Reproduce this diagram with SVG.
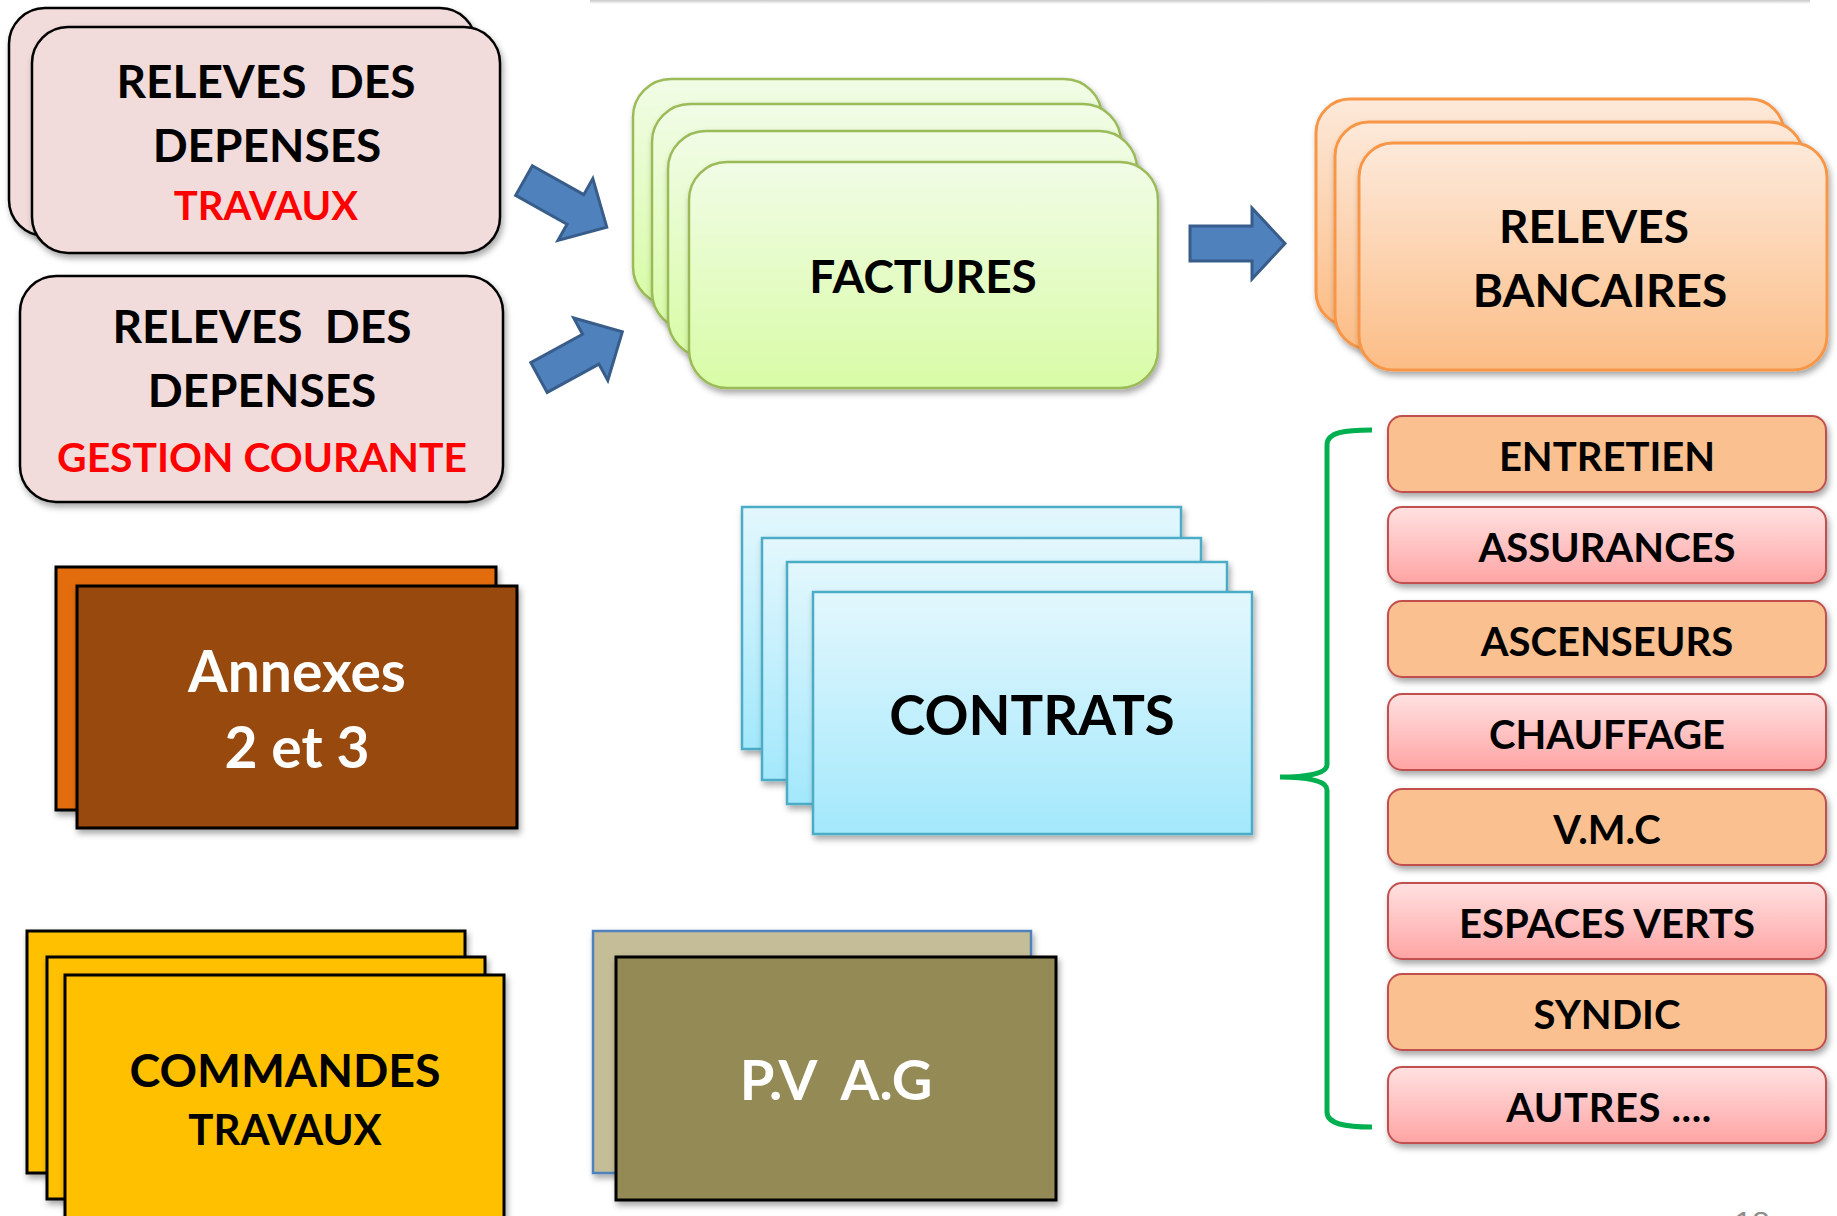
<svg xmlns="http://www.w3.org/2000/svg" width="1837" height="1216" viewBox="0 0 1837 1216">
<defs>
<filter id="sh" x="-10%" y="-10%" width="125%" height="135%"><feDropShadow dx="2" dy="4" stdDeviation="3" flood-color="#000" flood-opacity="0.35"/></filter>
<linearGradient id="gGreen" x1="0" y1="0" x2="0" y2="1"><stop offset="0" stop-color="#F1FCE6"/><stop offset="1" stop-color="#D8FCA6"/></linearGradient>
<linearGradient id="gOrange" x1="0" y1="0" x2="0" y2="1"><stop offset="0" stop-color="#FDE9DA"/><stop offset="1" stop-color="#FCBD86"/></linearGradient>
<linearGradient id="gBlue" x1="0" y1="0" x2="0" y2="1"><stop offset="0" stop-color="#E3F7FD"/><stop offset="1" stop-color="#A3E8FC"/></linearGradient>
<linearGradient id="gPink" x1="0" y1="0" x2="0" y2="1"><stop offset="0" stop-color="#FFE1E1"/><stop offset="1" stop-color="#FFA4A4"/></linearGradient>
<linearGradient id="gTop" x1="0" y1="0" x2="0" y2="1"><stop offset="0" stop-color="#C8C8C8"/><stop offset="1" stop-color="#FFFFFF"/></linearGradient>
</defs>
<style>
text{font-family:Lato,"Liberation Sans",sans-serif;font-weight:700;text-anchor:middle;}
.blk{fill:#000;}
.red{fill:#FF0000;}
.wht{fill:#FFFFFF;}
.rel{fill:#F2DCDB;stroke:#000;stroke-width:2.5;filter:url(#sh);}
.fac{fill:url(#gGreen);stroke:#9BBB59;stroke-width:2.5;filter:url(#sh);}
.ban{fill:url(#gOrange);stroke:#F79646;stroke-width:3;filter:url(#sh);}
.con{fill:url(#gBlue);stroke:#4BACC6;stroke-width:2.5;filter:url(#sh);}
.catO{fill:#FAC090;stroke:#C0504D;stroke-width:2;filter:url(#sh);}
.catP{fill:url(#gPink);stroke:#C0504D;stroke-width:2;filter:url(#sh);}
.arr{fill:#4F81BD;stroke:#385D8A;stroke-width:3;stroke-linejoin:miter;}
.sq{stroke:#000;stroke-width:3;filter:url(#sh);}
</style>
<rect width="1837" height="1216" fill="#FFFFFF"/>
<rect x="590" y="0" width="1220" height="4" fill="url(#gTop)"/>

<g id="releves-travaux">
<rect class="rel" x="9" y="8" width="467" height="228" rx="36"/>
<rect class="rel" x="32" y="27" width="468" height="226" rx="36"/>
<text class="blk" x="266" y="98" font-size="46" xml:space="preserve">RELEVES  DES</text>
<text class="blk" x="267" y="162" font-size="46">DEPENSES</text>
<text class="red" x="266" y="220" font-size="40">TRAVAUX</text>
</g>

<g id="releves-gestion">
<rect class="rel" x="20" y="276" width="483" height="226" rx="36"/>
<text class="blk" x="262" y="343" font-size="46" xml:space="preserve">RELEVES  DES</text>
<text class="blk" x="262" y="407" font-size="46">DEPENSES</text>
<text class="red" x="262" y="472" font-size="40.8">GESTION COURANTE</text>
</g>

<g id="factures">
<rect class="fac" x="633" y="79" width="469" height="226" rx="38"/>
<rect class="fac" x="652" y="104" width="469" height="226" rx="38"/>
<rect class="fac" x="668" y="131" width="469" height="226" rx="38"/>
<rect class="fac" x="689" y="162" width="469" height="226" rx="38"/>
<text class="blk" x="923" y="293" font-size="46">FACTURES</text>
</g>

<g id="releves-bancaires">
<rect class="ban" x="1316" y="99" width="468" height="227" rx="34"/>
<rect class="ban" x="1335" y="122" width="468" height="227" rx="34"/>
<rect class="ban" x="1359" y="143" width="468" height="227" rx="34"/>
<text class="blk" x="1594" y="243" font-size="46">RELEVES</text>
<text class="blk" x="1600" y="307" font-size="46">BANCAIRES</text>
</g>

<g id="annexes">
<rect class="sq" x="56" y="567" width="440" height="243" fill="#E36C09"/>
<rect class="sq" x="77" y="586" width="440" height="242" fill="#984807"/>
<text class="wht" x="297" y="692" font-size="57">Annexes</text>
<text class="wht" x="297" y="768" font-size="57">2 et 3</text>
</g>

<g id="contrats">
<rect class="con" x="742" y="507" width="439" height="242"/>
<rect class="con" x="762" y="538" width="439" height="242"/>
<rect class="con" x="787" y="562" width="440" height="242"/>
<rect class="con" x="813" y="592" width="439" height="242"/>
<text class="blk" x="1032" y="735" font-size="54.5">CONTRATS</text>
</g>

<g id="commandes-travaux">
<rect class="sq" x="27" y="931" width="438" height="242" fill="#FFC000" stroke-width="2.5"/>
<rect class="sq" x="47" y="957" width="438" height="242" fill="#FFC000" stroke-width="2.5"/>
<rect class="sq" x="65" y="975" width="439" height="260" fill="#FFC000" stroke-width="2.5"/>
<text class="blk" x="285" y="1087" font-size="46.5">COMMANDES</text>
<text class="blk" x="285" y="1145" font-size="42">TRAVAUX</text>
</g>

<g id="pv-ag">
<rect x="593" y="931" width="438" height="242" fill="#C4BD97" stroke="#4F81BD" stroke-width="2.5" filter="url(#sh)"/>
<rect class="sq" x="616" y="957" width="440" height="243" fill="#948A54"/>
<text class="wht" x="836" y="1100" font-size="56" xml:space="preserve">P.V  A.G</text>
</g>

<g id="cat-entretien"><rect class="catO" x="1388" y="416" width="438" height="76" rx="14"/><text class="blk" x="1607" y="470.5" font-size="40">ENTRETIEN</text></g>
<g id="cat-assurances"><rect class="catP" x="1388" y="507" width="438" height="76" rx="14"/><text class="blk" x="1607" y="561.5" font-size="40">ASSURANCES</text></g>
<g id="cat-ascenseurs"><rect class="catO" x="1388" y="601" width="438" height="76" rx="14"/><text class="blk" x="1607" y="655.5" font-size="40">ASCENSEURS</text></g>
<g id="cat-chauffage"><rect class="catP" x="1388" y="694" width="438" height="76" rx="14"/><text class="blk" x="1607" y="748.5" font-size="40">CHAUFFAGE</text></g>
<g id="cat-vmc"><rect class="catO" x="1388" y="789" width="438" height="76" rx="14"/><text class="blk" x="1607" y="843.5" font-size="40">V.M.C</text></g>
<g id="cat-espaces-verts"><rect class="catP" x="1388" y="883" width="438" height="76" rx="14"/><text class="blk" x="1607" y="937.5" font-size="40">ESPACES VERTS</text></g>
<g id="cat-syndic"><rect class="catO" x="1388" y="974" width="438" height="76" rx="14"/><text class="blk" x="1607" y="1028.5" font-size="40">SYNDIC</text></g>
<g id="cat-autres"><rect class="catP" x="1388" y="1067" width="438" height="76" rx="14"/><text class="blk" x="1609" y="1121.5" font-size="40" letter-spacing="0.6">AUTRES ....</text></g>

<g id="connectors">
<path class="arr" transform="translate(524,180.5) rotate(29.4)" d="M0,-17 L59,-17 L59,-35.5 L95,0 L59,35.5 L59,17 L0,17 Z"/>
<path class="arr" transform="translate(539,377.5) rotate(-28.7)" d="M0,-17 L59,-17 L59,-35.5 L95,0 L59,35.5 L59,17 L0,17 Z"/>
<path class="arr" d="M1190,226 L1252,226 L1252,208 L1285,243.5 L1252,279 L1252,261 L1190,261 Z"/>
<path d="M1372,430 C1345,430 1327,432 1327,445 L1327,765 C1327,774 1305,777 1280,777 C1305,777 1327,780 1327,790 L1327,1112 C1327,1124 1345,1127 1372,1127" fill="none" stroke="#00B050" stroke-width="5"/>
</g>

<text x="1752" y="1234" font-size="32" style="font-family:'Liberation Sans',sans-serif;font-weight:400;fill:#8C8C8C">18</text>
</svg>
